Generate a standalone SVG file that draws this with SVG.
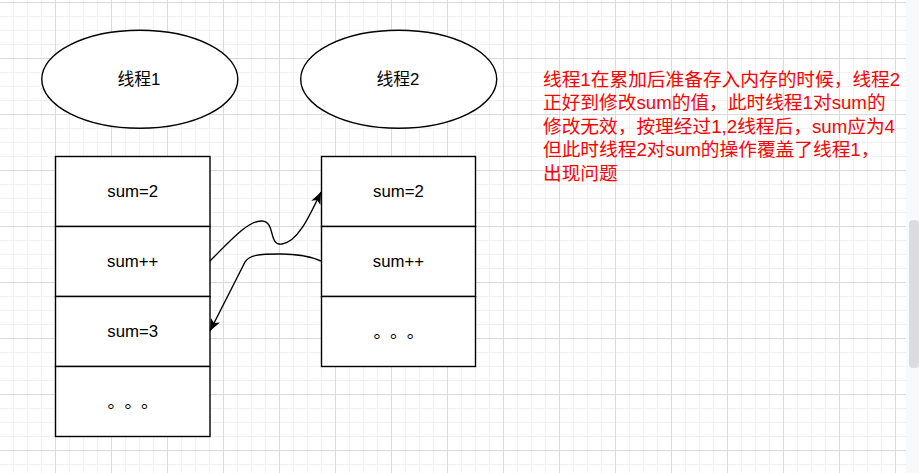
<svg xmlns="http://www.w3.org/2000/svg" width="919" height="473" viewBox="0 0 919 473">
<style>
.shape{fill:#ffffff;stroke:#000000;stroke-width:1.4}
.lbl{font-family:"Liberation Sans","Noto Sans CJK SC",sans-serif;font-size:16.8px;fill:#000000;text-anchor:middle}
.dots{font-family:"Noto Sans CJK SC",sans-serif;font-size:17.5px;fill:#000000}
.note{font-family:"Liberation Sans","Noto Sans CJK SC",sans-serif;font-size:18.7px;fill:#ff0000}
.edge{fill:none;stroke:#000000;stroke-width:1.4}
</style>
<defs>
<pattern id="grid" patternUnits="userSpaceOnUse" x="55" y="2" width="56" height="56">
<rect x="14" y="0" width="1" height="56" fill="#f1f1f1"/>
<rect x="28" y="0" width="1" height="56" fill="#f1f1f1"/>
<rect x="42" y="0" width="1" height="56" fill="#f1f1f1"/>
<rect x="0" y="14" width="56" height="1" fill="#f1f1f1"/>
<rect x="0" y="28" width="56" height="1" fill="#f1f1f1"/>
<rect x="0" y="42" width="56" height="1" fill="#f1f1f1"/>
<rect x="0" y="0" width="1" height="56" fill="#dadada"/>
<rect x="0" y="0" width="56" height="1" fill="#dadada"/>
</pattern>
<marker id="arrow" markerUnits="userSpaceOnUse" viewBox="0 0 12 10" markerWidth="12" markerHeight="10" refX="12" refY="5" orient="auto">
<path d="M0,0 L12,5 L0,10 L3,5 Z" fill="#000000"/>
</marker>
</defs>
<rect x="0" y="0" width="919" height="473" fill="#ffffff"/>
<rect x="0" y="0" width="906" height="473" fill="url(#grid)"/>
<rect x="906" y="0" width="13" height="473" fill="#f8f9fa"/>
<rect x="909" y="220" width="10" height="148" rx="4" fill="#dadce0"/>

<g id="thread1">
<ellipse class="shape" cx="139.8" cy="79.2" rx="98" ry="49"/>
<text class="lbl" x="139" y="85">线程1</text>
</g>
<g id="thread2">
<ellipse class="shape" cx="398.7" cy="79.2" rx="98" ry="49"/>
<text class="lbl" x="398" y="85">线程2</text>
</g>

<g id="t1-sum2">
<rect class="shape" x="55.5" y="156.5" width="154.5" height="70"/>
<text class="lbl" x="132.7" y="197">sum=2</text>
</g>
<g id="t1-inc">
<rect class="shape" x="55.5" y="226.5" width="154.5" height="70"/>
<text class="lbl" x="132.7" y="266.5">sum++</text>
</g>
<g id="t1-sum3">
<rect class="shape" x="55.5" y="296.5" width="154.5" height="70"/>
<text class="lbl" x="132.7" y="337">sum=3</text>
</g>
<g id="t1-more">
<rect class="shape" x="55.5" y="366.5" width="154.5" height="70"/>
<text class="dots" x="107.5 124.5 141" y="408">。。。</text>
</g>

<g id="t2-sum2">
<rect class="shape" x="321.5" y="156.5" width="154" height="70"/>
<text class="lbl" x="398.5" y="197">sum=2</text>
</g>
<g id="t2-inc">
<rect class="shape" x="321.5" y="226.5" width="154" height="70"/>
<text class="lbl" x="398.5" y="266.5">sum++</text>
</g>
<g id="t2-more">
<rect class="shape" x="321.5" y="296.5" width="154" height="70"/>
<text class="dots" x="373.5 390 406.7" y="338">。。。</text>
</g>

<g id="note">
<text class="note">
<tspan x="543" y="85.6">线程1在累加后准备存入内存的时候，线程2</tspan>
<tspan x="543" y="109.2">正好到修改sum的值，此时线程1对sum的</tspan>
<tspan x="543" y="132.8">修改无效，按理经过1,2线程后，sum应为4</tspan>
<tspan x="543" y="156.4">但此时线程2对sum的操作覆盖了线程1，</tspan>
<tspan x="543" y="180">出现问题</tspan>
</text>
</g>

<g id="connectors">
<path class="edge" marker-end="url(#arrow)" d="M210,261 C228,243 248,220 262,221 C276,222 268,246 282,244 C298,242 310,215 321,192"/>
<path class="edge" marker-end="url(#arrow)" d="M321,261 C310,256 298,254 280,254 C258,254 250,255 245,262 L210,331"/>
</g>
</svg>
